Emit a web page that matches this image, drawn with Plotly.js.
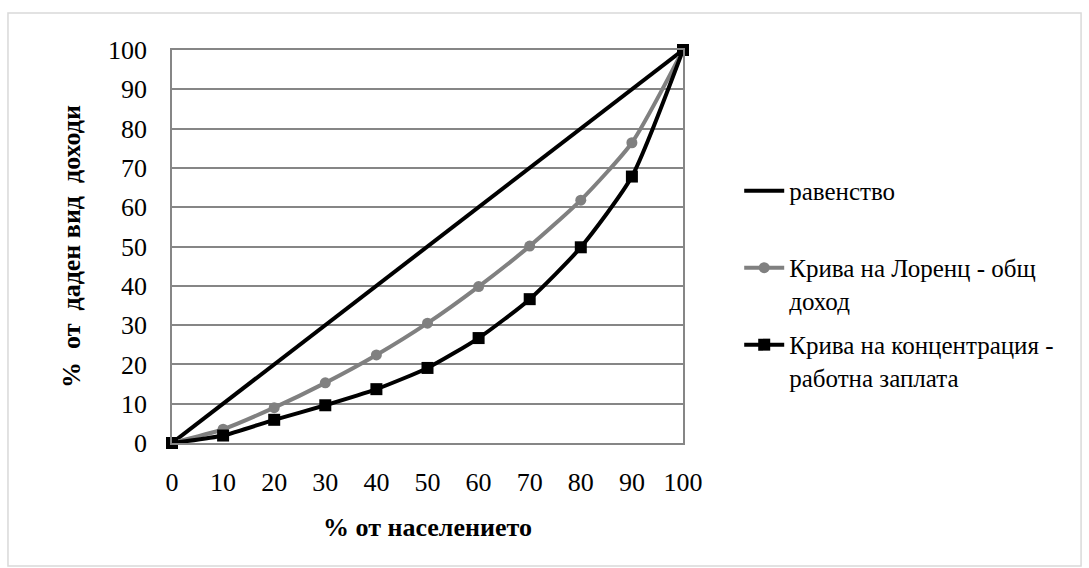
<!DOCTYPE html>
<html>
<head>
<meta charset="utf-8">
<script src="https://cdn.plot.ly/plotly-3.0.1.min.js"></script>
</head>
<body style="margin:0;background:#fff">
<div id="chart"></div>
<script>
var population = [0, 10, 20, 30, 40, 50, 60, 70, 80, 90, 100];
var equalityX = [0, 100];
var equalityY = [0, 100];
var lorenzIncome = [0, 3.5, 9, 15.3, 22.4, 30.5, 39.8, 50.1, 61.8, 76.4, 100];
var concentrationWage = [0, 1.9, 5.9, 9.6, 13.7, 19.1, 26.7, 36.6, 49.8, 67.8, 100];
var seriesNames = ["равенство<br>\u00a0", "Крива на Лоренц - общ<br>доход", "Крива на концентрация -<br>работна заплата"];
var tickVals = [0, 10, 20, 30, 40, 50, 60, 70, 80, 90, 100];

var serifFam = "Times New Roman";
var traces = [
  {x: equalityX, y: equalityY, name: seriesNames[0], mode: "lines", legendgroup: "a",
   line: {color: "#000000", width: 4}, cliponaxis: false},
  {x: population, y: lorenzIncome, name: seriesNames[1], mode: "lines+markers", legendgroup: "b",
   line: {color: "#808080", width: 4, shape: "spline", smoothing: 0.6},
   marker: {symbol: "circle", size: 11, color: "#808080"}, cliponaxis: false},
  {x: population, y: concentrationWage, name: seriesNames[2], mode: "lines+markers", legendgroup: "c",
   line: {color: "#000000", width: 4, shape: "spline", smoothing: 0.6},
   marker: {symbol: "square", size: 12, color: "#000000"}, cliponaxis: false}
];
var layout = {
  width: 1089, height: 568,
  margin: {l: 172, r: 406, t: 50, b: 125},
  paper_bgcolor: "#ffffff", plot_bgcolor: "#ffffff",
  showlegend: true,
  legend: {x: 1.11, y: 0.70, xanchor: "left", yanchor: "top", traceorder: "grouped", valign: "top",
           tracegroupgap: 9, font: {family: serifFam, size: 25, color: "#000000"}, itemwidth: 40,
           bgcolor: "rgba(0,0,0,0)"},
  xaxis: {range: [0, 100], tickvals: tickVals, ticks: "", showgrid: false, zeroline: false,
          showline: true, linecolor: "#868686", linewidth: 1.5, mirror: true,
          tickfont: {family: serifFam, size: 26, color: "#000000"}, ticklabelstandoff: 15,
          title: {text: "<b>% от населението</b>", font: {family: serifFam, size: 26, color: "#000000"}, standoff: 22}},
  yaxis: {range: [0, 100], tickvals: tickVals, ticks: "", showgrid: true, gridcolor: "#868686", gridwidth: 1.5,
          zeroline: false, showline: true, linecolor: "#868686", linewidth: 1.5, mirror: true,
          tickfont: {family: serifFam, size: 26, color: "#000000"}, ticklabelstandoff: 18,
          title: {text: "<b>%  от  даден вид  доходи</b>", font: {family: serifFam, size: 26, color: "#000000"}, standoff: 20}},
  shapes: [
    {type: "rect", xref: "paper", yref: "paper", x0: -0.321, x1: 1.779, y0: -0.313, y1: 1.094,
     line: {color: "#d9d9d9", width: 1.5}, fillcolor: "rgba(0,0,0,0)", layer: "below"}
  ]
};
Plotly.newPlot("chart", traces, layout, {displayModeBar: false});
</script>
</body>
</html>
